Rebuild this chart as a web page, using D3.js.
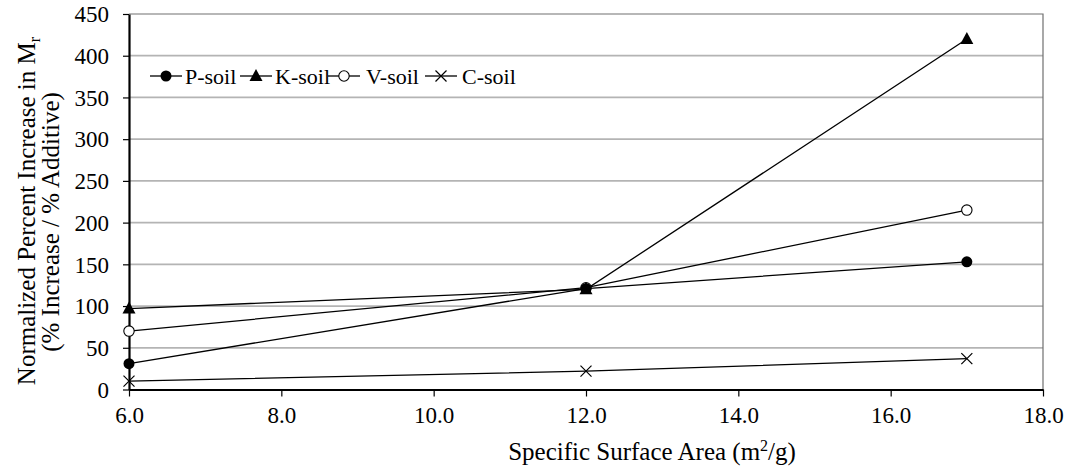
<!DOCTYPE html>
<html>
<head>
<meta charset="utf-8">
<script src="https://cdn.jsdelivr.net/npm/d3@7"></script>
<style>
  html, body { margin: 0; padding: 0; background: #fff; }
  svg { display: block; }
</style>
</head>
<body>
<svg id="chart" width="1074" height="473"></svg>
<script>
// Specific surface area (m²/g) of each soil group
const surfaceArea = [6, 12, 17];

// Normalized percent increase in Mr for each soil
const pSoil = [31, 121, 153];
const kSoil = [97, 120, 420];
const vSoil = [70, 122, 215];
const cSoil = [10, 22, 37];

const seriesNames = ["P-soil", "K-soil", "V-soil", "C-soil"];
const seriesMarkers = ["dot", "triangle", "ring", "cross"];

const xTickValues = [6, 8, 10, 12, 14, 16, 18];
const yTickValues = [0, 50, 100, 150, 200, 250, 300, 350, 400, 450];

const FONT = "'Liberation Serif', 'Times New Roman', serif";

const series = [pSoil, kSoil, vSoil, cSoil].map((vals, i) => ({
  name: seriesNames[i],
  marker: seriesMarkers[i],
  points: vals.map((v, j) => ({ x: surfaceArea[j], y: v }))
}));

const svg = d3.select("#chart").style("font-family", FONT);
const plot = { left: 129, right: 1043, top: 14, bottom: 389.5 };

const x = d3.scaleLinear().domain([6, 18]).range([plot.left, plot.right]);
const y = d3.scaleLinear().domain([0, 450]).range([plot.bottom, plot.top]);

// horizontal gridlines
svg.append("g")
  .selectAll("line")
  .data(yTickValues.filter(d => d > 0 && d < 450))
  .join("line")
  .attr("x1", plot.left).attr("x2", plot.right)
  .attr("y1", d => y(d)).attr("y2", d => y(d))
  .attr("stroke", "#b4b4b4").attr("stroke-width", 1.8);

// top and right frame
svg.append("path")
  .attr("d", `M${plot.left},${plot.top}H${plot.right}V${plot.bottom}`)
  .attr("fill", "none").attr("stroke", "#707070").attr("stroke-width", 1.2);

// series lines
const line = d3.line().x(d => x(d.x)).y(d => y(d.y));
svg.append("g")
  .selectAll("path")
  .data(series)
  .join("path")
  .attr("d", d => line(d.points))
  .attr("fill", "none").attr("stroke", "#000").attr("stroke-width", 1.3);

// axes
const xAxis = d3.axisBottom(x).tickValues(xTickValues).tickFormat(d3.format(".1f"))
  .tickSizeInner(7).tickSizeOuter(0).tickPadding(10);
const yAxis = d3.axisLeft(y).tickValues(yTickValues).tickFormat(d3.format("d"))
  .tickSizeInner(6).tickSizeOuter(0).tickPadding(14);

const gx = svg.append("g").attr("transform", `translate(0,${plot.bottom})`).call(xAxis);
const gy = svg.append("g").attr("transform", `translate(${plot.left},0)`).call(yAxis);

[gx, gy].forEach(g => {
  g.attr("font-family", null).attr("font-size", null);
  g.select(".domain").attr("stroke", "#000").attr("stroke-width", 2.2);
  g.selectAll(".tick line").attr("stroke", "#000").attr("stroke-width", 1.2);
  g.selectAll(".tick text")
    .style("font-family", FONT)
    .style("font-size", "23px").attr("fill", "#000");
});
gy.selectAll(".tick text").attr("dy", "0.34em");

// marker drawing
function drawMarker(g, type, cx, cy) {
  if (type === "dot") {
    g.append("circle").attr("cx", cx).attr("cy", cy).attr("r", 5.5).attr("fill", "#000");
  } else if (type === "ring") {
    g.append("circle").attr("cx", cx).attr("cy", cy).attr("r", 5.2)
      .attr("fill", "#fff").attr("stroke", "#000").attr("stroke-width", 1.1);
  } else if (type === "triangle") {
    g.append("path")
      .attr("d", `M${cx},${cy - 7}L${cx + 6.5},${cy + 5}L${cx - 6.5},${cy + 5}Z`)
      .attr("fill", "#000");
  } else if (type === "cross") {
    const s = 5.5;
    g.append("path")
      .attr("d", `M${cx - s},${cy - s}L${cx + s},${cy + s}M${cx - s},${cy + s}L${cx + s},${cy - s}`)
      .attr("stroke", "#000").attr("stroke-width", 1.2).attr("fill", "none");
  }
}

// markers: first series drawn last so it sits on top where points coincide
const markers = svg.append("g");
series.slice().reverse().forEach(s => {
  s.points.forEach(p => drawMarker(markers, s.marker, x(p.x), y(p.y)));
});

// legend
const legendItems = [
  { lx: 150, tx: 185 },
  { lx: 240, tx: 275 },
  { lx: 328, tx: 366 },
  { lx: 425, tx: 462 }
];
const legend = svg.append("g");
series.forEach((s, i) => {
  const it = legendItems[i];
  const ly = 76;
  legend.append("line")
    .attr("x1", it.lx).attr("x2", it.lx + 32)
    .attr("y1", ly).attr("y2", ly)
    .attr("stroke", "#000").attr("stroke-width", 1.3);
  drawMarker(legend, s.marker, it.lx + 16, ly);
  legend.append("text")
    .attr("x", it.tx).attr("y", ly + 8)
    .style("font-family", FONT).style("font-size", "22px")
    .text(s.name);
});

// x axis title
const xt = svg.append("text")
  .attr("x", 652).attr("y", 460)
  .attr("text-anchor", "middle")
  .style("font-family", FONT).style("font-size", "25px");
xt.append("tspan").text("Specific Surface Area (m");
xt.append("tspan").style("font-size", "16px").attr("dy", -9).text("2");
xt.append("tspan").attr("dy", 9).text("/g)");

// y axis title (two lines)
const yt1 = svg.append("text")
  .attr("transform", "translate(35,211) rotate(-90)")
  .attr("text-anchor", "middle")
  .style("font-family", FONT).style("font-size", "25px");
yt1.append("tspan").text("Normalized Percent Increase in M");
yt1.append("tspan").style("font-size", "16px").attr("dy", 5).text("r");

svg.append("text")
  .attr("transform", "translate(59,222) rotate(-90)")
  .attr("text-anchor", "middle")
  .style("font-family", FONT).style("font-size", "25px")
  .text("(% Increase / % Additive)");
</script>
</body>
</html>
